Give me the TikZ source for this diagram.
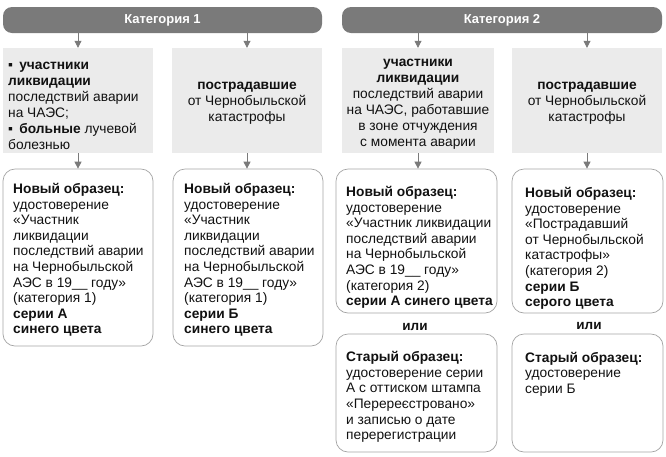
\documentclass[tikz,border=0pt]{standalone}
\usepackage{fontspec}
\setmainfont{Liberation Sans}
\usetikzlibrary{arrows.meta}
\definecolor{hdr}{HTML}{7A7A7A}
\definecolor{lgray}{HTML}{EBEBEB}
\definecolor{bord}{HTML}{A3A3A3}
\definecolor{arr}{HTML}{7A7A7A}
\definecolor{ink}{HTML}{111111}
\begin{document}
\begin{tikzpicture}[x=1pt,y=-1pt,
  hdrbox/.style={fill=hdr, rounded corners=9pt, inner sep=0pt, text=white,
    font=\fontsize{13}{15}\selectfont\bfseries, minimum height=26pt},
  graybox/.style={fill=lgray, inner sep=0pt, minimum height=105pt},
  cardbox/.style={draw=bord, line width=0.7pt, rounded corners=12pt, inner sep=0pt},
  txt/.style={inner sep=0pt, text=ink, font=\fontsize{13.75}{15.6}\selectfont},
  gtxt/.style={txt, font=\fontsize{13.75}{16}\selectfont},
  ortxt/.style={inner sep=0pt, text=ink, font=\fontsize{13.5}{15}\selectfont\bfseries},
  arrowline/.style={draw=arr, line width=0.8pt, -{Triangle[width=7pt,length=7pt]}, arr}
]
\useasboundingbox (0,0) rectangle (666,456);

% headers
\node[hdrbox, minimum width=319pt] (h1) at (162.5,20) {Категория 1};
\node[hdrbox, minimum width=320pt] (h2) at (502,20) {Категория 2};

% gray boxes
\node[graybox, minimum width=150pt] (g1) at (78,100.5) {};
\node[graybox, minimum width=150pt] (g2) at (247,100.5) {};
\node[graybox, minimum width=152pt] (g3) at (418,100.5) {};
\node[graybox, minimum width=150pt] (g4) at (587,100.5) {};

\node[gtxt, anchor=west, align=left] (tg1) at (8,105.5)
  {▪\hspace{0.45em}\textbf{участники}\\
   \textbf{ликвидации}\\
   последствий аварии\\
   на ЧАЭС;\\
   ▪\hspace{0.45em}\textbf{больные} лучевой\\
   болезнью};
\node[gtxt, align=center] (tg2) at (247,103)
  {\textbf{пострадавшие}\\ от Чернобыльской\\ катастрофы};
\node[gtxt, align=center] (tg3) at (418,104)
  {\textbf{участники}\\ \textbf{ликвидации}\\ последствий аварии\\ на ЧАЭС, работавшие\\ в зоне отчуждения\\ с момента аварии};
\node[gtxt, align=center] (tg4) at (587,103)
  {\textbf{пострадавшие}\\ от Чернобыльской\\ катастрофы};

% new-sample cards
\node[cardbox, minimum width=150pt, minimum height=177pt] (n1) at (78,257.5) {};
\node[cardbox, minimum width=150pt, minimum height=177pt] (n2) at (248,257.5) {};
\node[cardbox, minimum width=161pt, minimum height=144pt] (n3) at (416.5,241) {};
\node[cardbox, minimum width=151pt, minimum height=144pt] (n4) at (587.5,241) {};

\node[txt, anchor=west, align=left] (tn1) at (13,260)
  {\textbf{Новый образец:}\\ удостоверение\\ «Участник\\ ликвидации\\ последствий аварии\\ на Чернобыльской\\ АЭС в 19\_\_ году»\\ (категория 1)\\ \textbf{серии А}\\ \textbf{синего цвета}};
\node[txt, anchor=west, align=left] (tn2) at (184,260)
  {\textbf{Новый образец:}\\ удостоверение\\ «Участник\\ ликвидации\\ последствий аварии\\ на Чернобыльской\\ АЭС в 19\_\_ году»\\ (категория 1)\\ \textbf{серии Б}\\ \textbf{синего цвета}};
\node[txt, anchor=west, align=left] (tn3) at (346,247.5)
  {\textbf{Новый образец:}\\ удостоверение\\ «Участник ликвидации\\ последствий аварии\\ на Чернобыльской\\ АЭС в 19\_\_ году»\\ (категория 2)\\ \textbf{серии А синего цвета}};
\node[txt, anchor=west, align=left] (tn4) at (525,248.5)
  {\textbf{Новый образец:}\\ удостоверение\\ «Пострадавший\\ от Чернобыльской\\ катастрофы»\\ (категория 2)\\ \textbf{серии Б}\\ \textbf{серого цвета}};

% "или"
\node[ortxt] (or1) at (415,327) {или};
\node[ortxt] (or2) at (589,326) {или};

% old-sample cards
\node[cardbox, minimum width=161pt, minimum height=118pt] (o3) at (416.5,393) {};
\node[cardbox, minimum width=151pt, minimum height=118pt] (o4) at (587.5,393) {};

\node[txt, anchor=west, align=left] (to3) at (346,397)
  {\textbf{Старый образец:}\\ удостоверение серии\\ А с оттиском штампа\\ «Перереєстровано»\\ и записью о дате\\ перерегистрации};
\node[txt, anchor=west, align=left] (to4) at (525,374)
  {\textbf{Старый образец:}\\ удостоверение\\ серии Б};

% arrows
\draw[arrowline] (g1.north |- h1.south) -- (g1.north);
\draw[arrowline] (g2.north |- h1.south) -- (g2.north);
\draw[arrowline] (g3.north |- h2.south) -- (g3.north);
\draw[arrowline] (g4.north |- h2.south) -- (g4.north);
\draw[arrowline] (g1.south) -- (g1.south |- n1.north);
\draw[arrowline] (g2.south) -- (g2.south |- n2.north);
\draw[arrowline] (g3.south) -- (g3.south |- n3.north);
\draw[arrowline] (g4.south) -- (g4.south |- n4.north);
\end{tikzpicture}
\end{document}
